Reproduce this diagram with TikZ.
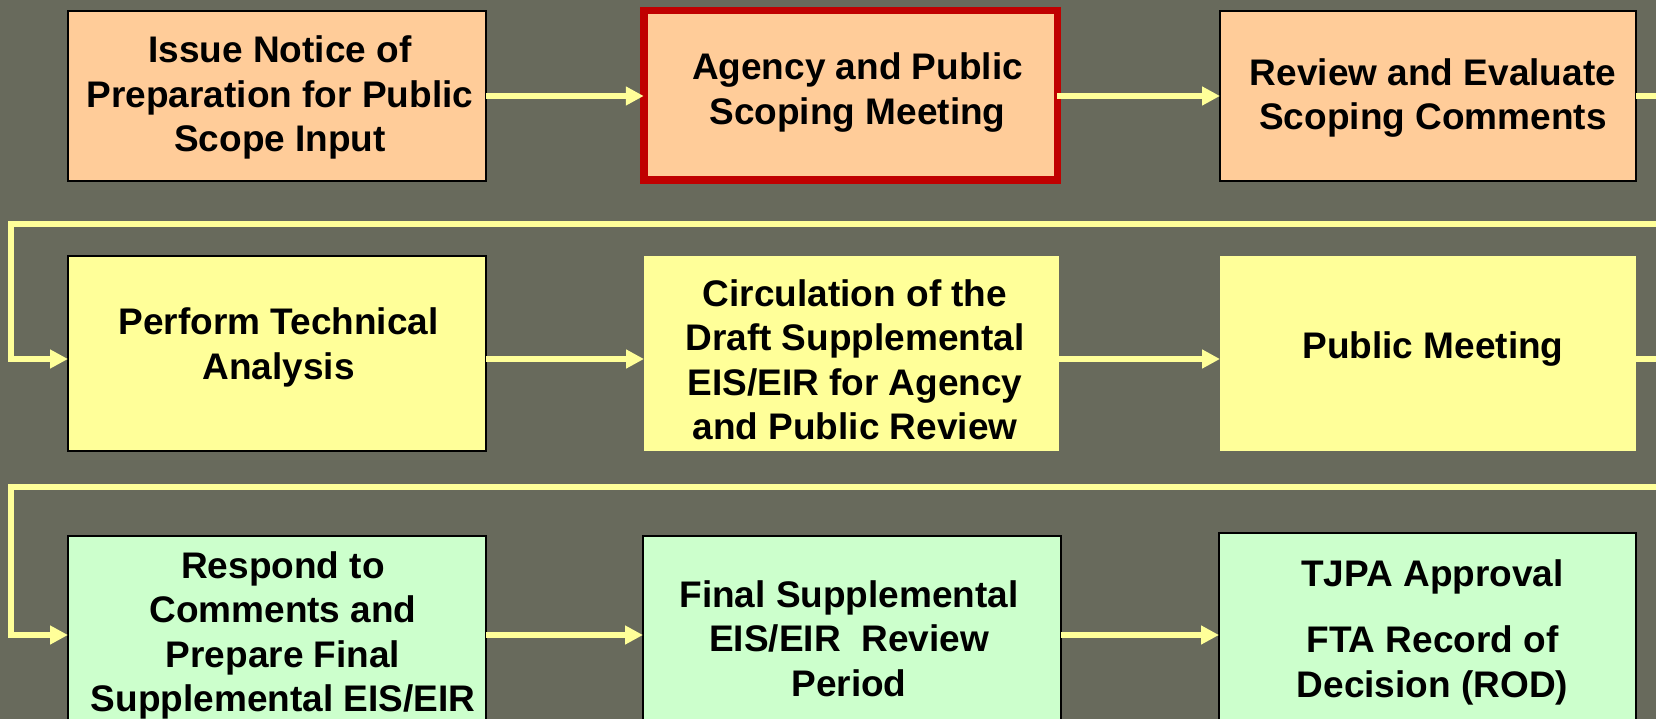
\documentclass[tikz,border=0pt]{standalone}
\usepackage{fontspec}
\setmainfont{Liberation Sans}
\usetikzlibrary{arrows.meta}
\definecolor{bg}{HTML}{686A5C}
\definecolor{orangefill}{HTML}{FFCC99}
\definecolor{yellowfill}{HTML}{FFFF99}
\definecolor{greenfill}{HTML}{CCFFCC}
\definecolor{connclr}{HTML}{FFFF99}
\definecolor{redline}{HTML}{C00000}
\newcommand{\liftbox}[3]{\raisebox{#2}[\height][\depth]{\hspace*{#1}\begin{tabular}{@{}c@{}}#3\end{tabular}\hspace*{-#1}}}
\begin{document}
\begin{tikzpicture}[x=1pt,y=-1pt,
  box/.style={rectangle, inner sep=0pt, outer sep=0pt,
    font=\fontsize{37}{44.5}\selectfont\bfseries, text=black},
  blackedge/.style={draw=black, line width=2pt},
  noedge/.style={draw=none},
  rededge/.style={draw=redline, line width=7.5pt},
  orangebox/.style={box, fill=orangefill},
  yellowbox/.style={box, fill=yellowfill},
  greenbox/.style={box, fill=greenfill},
  conn/.style={draw=connclr, line width=6pt, line join=miter},
  connarrow/.style={conn, -{Triangle[length=18pt,width=18pt]}}
]
\useasboundingbox (0,0) rectangle (1656,719);
\fill[bg] (0,0) rectangle (1656,719);
\begin{scope}
\clip (0,0) rectangle (1656,719);
% row 1
\node[orangebox, blackedge, minimum width=418pt, minimum height=170pt] (A1) at (277,96)
  {\liftbox{3pt}{-2.5pt}{Issue Notice of\\Preparation for Public\\Scope Input}};
\node[orangebox, rededge, minimum width=413.5pt, minimum height=169.5pt] (A2) at (850.5,95.5)
  {\liftbox{7pt}{2.5pt}{Agency and Public\\Scoping Meeting}};
\node[orangebox, blackedge, minimum width=416pt, minimum height=170pt] (A3) at (1428,96)
  {\liftbox{5pt}{-2.5pt}{Review and Evaluate\\Scoping Comments}};
% row 2
\node[yellowbox, blackedge, minimum width=418pt, minimum height=195pt] (B1) at (277,353.5)
  {\liftbox{1.5pt}{5.5pt}{Perform Technical\\Analysis}};
\node[yellowbox, noedge, minimum width=415pt, minimum height=195pt] (B2) at (851.5,353.5)
  {\liftbox{3.5pt}{-10.5pt}{Circulation of the\\Draft Supplemental\\EIS/EIR for Agency\\and Public Review}};
\node[yellowbox, noedge, minimum width=416pt, minimum height=195pt] (B3) at (1428,353.5)
  {\liftbox{5pt}{3.5pt}{Public Meeting}};
% row 3
\node[greenbox, blackedge, minimum width=418pt, minimum height=191pt] (C1) at (277,631.5)
  {\liftbox{6pt}{-4.5pt}{Respond to\\Comments and\\Prepare Final\\Supplemental EIS/EIR}};
\node[greenbox, blackedge, minimum width=418pt, minimum height=204pt] (C2) at (852,638)
  {\liftbox{-3pt}{-5pt}{Final Supplemental\\EIS/EIR\ \ Review\\Period}};
\node[greenbox, blackedge, minimum width=417pt, minimum height=190pt] (C3) at (1427.5,628)
  {\liftbox{5pt}{-5pt}{TJPA Approval\\[22pt]FTA Record of\\Decision (ROD)}};
% edge coordinates
\coordinate (outA) at (1656,96);
\coordinate (inB) at (1656,224);
\coordinate (turnB) at (11,224);
\coordinate (outB) at (1656,359);
\coordinate (inC) at (1656,487);
\coordinate (turnC) at (11,487);
% connectors row 1
\draw[connarrow] (A1.east |- 0,96) -- (A2.west |- 0,96);
\draw[connarrow] (A2.east |- 0,96) -- (A3.west |- 0,96);
\draw[conn] (A3.east |- 0,96) -- (outA);
% to row 2
\draw[connarrow] (inB) -- (turnB) |- (B1.west |- 0,359);
\draw[connarrow] (B1.east |- 0,359) -- (B2.west |- 0,359);
\draw[connarrow] (B2.east |- 0,359) -- (B3.west |- 0,359);
\draw[conn] (B3.east |- 0,359) -- (outB);
% to row 3
\draw[connarrow] (inC) -- (turnC) |- (C1.west |- 0,635);
\draw[connarrow] (C1.east |- 0,635) -- (C2.west |- 0,635);
\draw[connarrow] (C2.east |- 0,635) -- (C3.west |- 0,635);
\end{scope}
\end{tikzpicture}
\end{document}
